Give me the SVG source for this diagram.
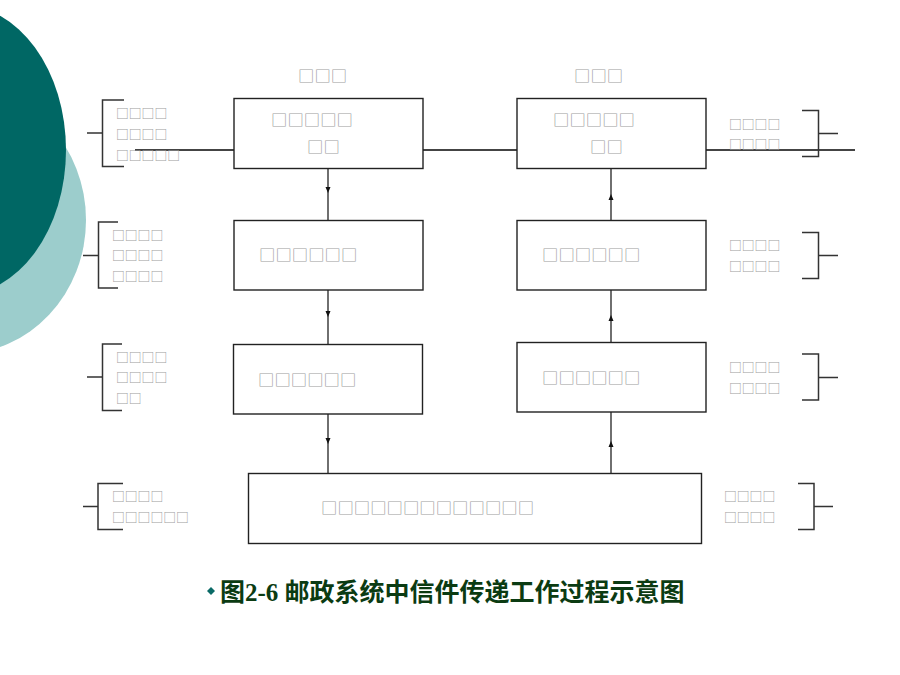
<svg xmlns="http://www.w3.org/2000/svg" width="900" height="675" viewBox="0 0 900 675">
<defs>
<style>
.box{fill:#fff;stroke:#222;stroke-width:1.4}
.ln{fill:none;stroke:#222;stroke-width:1.3}
.br{fill:none;stroke:#333;stroke-width:1.5}
.main{fill:none;stroke:#444;stroke-width:2}
.sq{font-family:"Noto Sans CJK SC","DejaVu Sans",sans-serif;fill:#9c9c9c;dominant-baseline:central}
.big{font-size:16.4px}
.sm{font-size:12.8px}
.cap{font-family:"Liberation Serif","Noto Sans CJK SC",serif;font-size:25px;font-weight:bold;fill:#0b3b12}
</style>
<marker id="ah" viewBox="0 0 6 6" refX="3" refY="3" markerWidth="6" markerHeight="6" markerUnits="userSpaceOnUse" orient="auto">
<path d="M0,0.5 L6,3 L0,5.5 Z" fill="#111"/>
</marker>
</defs>
<rect width="900" height="675" fill="#fff"/>
<g id="background">
<ellipse cx="-40" cy="220" rx="126" ry="134" fill="#9ccdcc"/>
<ellipse cx="-40" cy="150" rx="106" ry="145" fill="#006764"/>
</g>
<g id="connectors">
<path class="main" d="M135,150 H234 M423,150 H517 M706,150 H855"/>
<path class="ln" d="M328,168 L328,190 L328,221" marker-mid="url(#ah)"/>
<path class="ln" d="M328,290 L328,314 L328,345" marker-mid="url(#ah)"/>
<path class="ln" d="M328,414 L328,441 L328,473" marker-mid="url(#ah)"/>
<path class="ln" d="M611,221 L611,197 L611,168" marker-mid="url(#ah)"/>
<path class="ln" d="M611,343 L611,318 L611,290" marker-mid="url(#ah)"/>
<path class="ln" d="M611,473 L611,444 L611,412" marker-mid="url(#ah)"/>
</g>
<g id="top-labels">
<text class="sq big" x="298" y="75">□□□</text>
<text class="sq big" x="574" y="75">□□□</text>
</g>
<g id="box-left-1">
<rect class="box" x="234" y="98.5" width="189" height="70"/>
<text class="sq big" x="271" y="119">□□□□□</text>
<text class="sq big" x="307" y="146">□□</text>
</g>
<g id="box-left-2">
<rect class="box" x="234" y="220.5" width="189" height="69.5"/>
<text class="sq big" x="259" y="254">□□□□□□</text>
</g>
<g id="box-left-3">
<rect class="box" x="233.5" y="344.5" width="189" height="69.5"/>
<text class="sq big" x="258" y="378.5">□□□□□□</text>
</g>
<g id="box-right-1">
<rect class="box" x="517" y="98.5" width="189" height="70"/>
<text class="sq big" x="553" y="119">□□□□□</text>
<text class="sq big" x="590" y="146">□□</text>
</g>
<g id="box-right-2">
<rect class="box" x="517" y="220.5" width="189" height="69.5"/>
<text class="sq big" x="542" y="254">□□□□□□</text>
</g>
<g id="box-right-3">
<rect class="box" x="517" y="342.5" width="189" height="69.5"/>
<text class="sq big" x="542" y="376.5">□□□□□□</text>
</g>
<g id="box-bottom">
<rect class="box" x="248.5" y="473.5" width="453" height="70"/>
<text class="sq big" x="321" y="507">□□□□□□□□□□□□□</text>
</g>
<g id="note-left-1">
<path class="br" d="M124,100 H102.5 V166.5 H124 M87,133 H102.5"/>
<text class="sq sm" x="116" y="112">□□□□</text>
<text class="sq sm" x="116" y="133">□□□□</text>
<text class="sq sm" x="116" y="154">□□□□□</text>
</g>
<g id="note-left-2">
<path class="br" d="M118,222 H98.5 V288 H118 M83,255.5 H98.5"/>
<text class="sq sm" x="112" y="234">□□□□</text>
<text class="sq sm" x="112" y="254.5">□□□□</text>
<text class="sq sm" x="112" y="275">□□□□</text>
</g>
<g id="note-left-3">
<path class="br" d="M122,344 H102.5 V410.5 H122 M87,377 H102.5"/>
<text class="sq sm" x="116" y="356">□□□□</text>
<text class="sq sm" x="116" y="376.5">□□□□</text>
<text class="sq sm" x="116" y="397">□□</text>
</g>
<g id="note-left-4">
<path class="br" d="M123,483.5 H98 V529.5 H123 M83,506.5 H98"/>
<text class="sq sm" x="112" y="495.5">□□□□</text>
<text class="sq sm" x="112" y="516">□□□□□□</text>
</g>
<g id="note-right-1">
<path class="br" d="M802,110.5 H818.5 V156.5 H802 M818.5,133.5 H838"/>
<text class="sq sm" x="729" y="123">□□□□</text>
<text class="sq sm" x="729" y="143">□□□□</text>
</g>
<g id="note-right-2">
<path class="br" d="M802,232.5 H818.5 V278.5 H802 M818.5,255.5 H838"/>
<text class="sq sm" x="729" y="244">□□□□</text>
<text class="sq sm" x="729" y="265">□□□□</text>
</g>
<g id="note-right-3">
<path class="br" d="M802,354 H818.5 V400 H802 M818.5,377.5 H838"/>
<text class="sq sm" x="729" y="366">□□□□</text>
<text class="sq sm" x="729" y="387">□□□□</text>
</g>
<g id="note-right-4">
<path class="br" d="M798,483.5 H814 V529.5 H798 M814,506.5 H833"/>
<text class="sq sm" x="724" y="495.5">□□□□</text>
<text class="sq sm" x="724" y="516">□□□□</text>
</g>
<g id="caption">
<path d="M211,587 L215,591 L211,595 L207,591 Z" fill="#0a6a66"/>
<text class="cap" x="220" y="601">图2-6 邮政系统中信件传递工作过程示意图</text>
</g>
</svg>
